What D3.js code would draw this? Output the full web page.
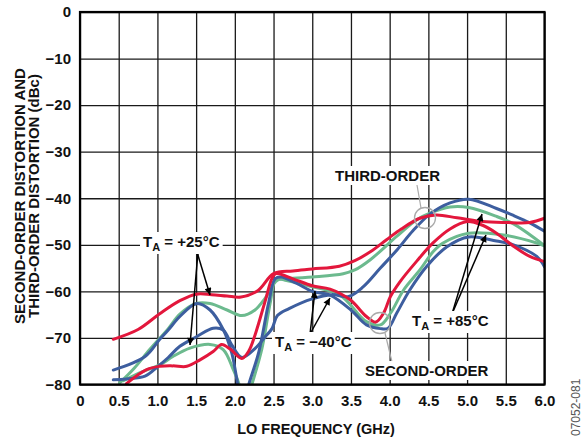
<!DOCTYPE html>
<html>
<head>
<meta charset="utf-8">
<script src="https://cdn.jsdelivr.net/npm/d3@7"></script>
<style>
  body { margin: 0; background: #fff; }
  text { font-family: "Liberation Sans", Arial, sans-serif; }
</style>
</head>
<body>
<div id="chart"></div>
<script>
var width = 586;
var height = 440;

// tick values
var freqTicks = [0, 0.5, 1.0, 1.5, 2.0, 2.5, 3.0, 3.5, 4.0, 4.5, 5.0, 5.5, 6.0];
var dbTicks = [0, -10, -20, -30, -40, -50, -60, -70, -80];

// curves: [LO freq GHz, dBc]
var red3 = [[0.43,-70.3],[0.75,-68.2],[1.03,-64.8],[1.29,-62],[1.5,-60.6],[1.7,-60.7],[1.9,-61],[2.08,-61.2],[2.3,-59.8],[2.5,-56.2],[2.75,-55.6],[3.0,-55.2],[3.35,-54.6],[3.55,-53.4],[3.75,-51.5],[3.96,-48.9],[4.15,-46.6],[4.39,-44.3],[4.6,-43.6],[4.87,-44.2],[5.2,-45],[5.5,-45.2],[5.81,-45.2],[6.0,-44.3]];
var red2 = [[0.6,-79.8],[0.86,-76.8],[1.03,-76.1],[1.2,-76],[1.38,-76.1],[1.55,-74.7],[1.72,-72.9],[1.83,-71.4],[1.94,-72.4],[2.09,-74.4],[2.18,-72.8],[2.26,-69.4],[2.39,-62.2],[2.48,-57.2],[2.53,-56.2],[2.75,-57.3],[3.0,-58.8],[3.23,-59.5],[3.49,-61.8],[3.7,-65.4],[3.82,-66.6],[3.92,-64.7],[4.01,-61.1],[4.13,-58],[4.35,-53.5],[4.56,-49.6],[4.78,-46.6],[5.0,-45],[5.2,-45.8],[5.38,-47.5],[5.6,-50.3],[5.81,-52.5],[6.0,-53.6]];
var blue3 = [[0.43,-79],[0.6,-78.8],[0.84,-78.2],[1.0,-76.2],[1.14,-74.2],[1.29,-71.8],[1.51,-69.7],[1.72,-67.9],[1.85,-68.3],[1.96,-71.5],[2.09,-74.2],[2.26,-72.3],[2.4,-69.6],[2.48,-68],[2.55,-65.2],[2.7,-63.7],[3.0,-61.6],[3.25,-60.7],[3.47,-61.1],[3.66,-59],[3.88,-55],[4.1,-51],[4.3,-47],[4.52,-43.4],[4.78,-41],[5.02,-40.2],[5.38,-42.2],[5.6,-43.7],[5.81,-45.3],[6.0,-47.1]];
var blue2 = [[0.43,-76.9],[0.84,-74],[1.03,-70.3],[1.14,-68.3],[1.29,-65.4],[1.51,-62.6],[1.68,-64],[1.85,-68.2],[1.96,-73.2],[2.02,-78.3],[2.1,-85],[2.18,-80],[2.31,-73],[2.44,-62.2],[2.52,-57.3],[2.6,-56.9],[2.8,-58.3],[3.0,-60],[3.23,-60.8],[3.5,-64],[3.7,-67.2],[3.88,-68],[3.98,-67.9],[4.09,-64.7],[4.26,-59.7],[4.48,-54.6],[4.74,-50.4],[5.02,-48.3],[5.38,-49.2],[5.6,-50],[5.9,-52.5],[6.0,-54.7]];
var green3 = [[0.51,-79.7],[0.7,-76.5],[0.9,-72.5],[1.14,-68],[1.29,-64.9],[1.5,-62.6],[1.68,-62.6],[1.9,-64],[2.09,-65.2],[2.26,-64],[2.39,-61.5],[2.55,-57.6],[2.75,-57.2],[3.0,-56.9],[3.4,-56.2],[3.55,-55.4],[3.75,-53.2],[4.09,-48.2],[4.35,-44.6],[4.52,-43.2],[4.78,-41.9],[5.02,-42],[5.38,-43.9],[5.6,-45.5],[5.9,-48.9],[6.0,-50.2]];
var green2 = [[0.56,-79.2],[0.8,-77.3],[1.03,-75.8],[1.2,-74],[1.42,-72.2],[1.68,-71.4],[1.85,-72.5],[1.98,-76.8],[2.05,-79.7],[2.13,-85],[2.22,-80],[2.35,-72.3],[2.46,-62.2],[2.53,-57.4],[2.65,-57.6],[3.0,-59],[3.36,-60.8],[3.7,-66.5],[3.88,-67.2],[4.01,-64.7],[4.18,-59.7],[4.39,-55.4],[4.56,-51.5],[4.69,-49.6],[5.02,-47.5],[5.47,-47.9],[5.9,-49.6],[6.0,-50.2]];

var RED = "#e3173c", GREEN = "#6cba8e", BLUE = "#3d5e9f";

var series = [
  {pts: green3, color: GREEN}, {pts: green2, color: GREEN},
  {pts: blue3, color: BLUE}, {pts: blue2, color: BLUE},
  {pts: red3, color: RED}, {pts: red2, color: RED}
];

var svg = d3.select("#chart").append("svg")
  .attr("width", width)
  .attr("height", height);

var xScale = d3.scaleLinear().domain([0, 6]).range([80, 544.5]);
var yScale = d3.scaleLinear().domain([-80, 0]).range([384.5, 12]);
var plotW = 544.5 - 80, plotH = 384.5 - 12;

// grid + tick labels
var xAxis = d3.axisBottom(xScale)
  .tickValues(freqTicks)
  .tickSize(-plotH)
  .tickPadding(11)
  .tickFormat(function(d) { return d === 0 ? "0" : d3.format(".1f")(d); });
var yAxis = d3.axisLeft(yScale)
  .tickValues(dbTicks)
  .tickSize(-plotW)
  .tickPadding(9)
  .tickFormat(function(d) { return d === 0 ? "0" : "\u2212" + Math.abs(d); });

var gx = svg.append("g").attr("transform", "translate(0," + 384.5 + ")").call(xAxis);
var gy = svg.append("g").attr("transform", "translate(80,0)").call(yAxis);
[gx, gy].forEach(function(g) {
  g.select(".domain").remove();
  g.selectAll(".tick line").attr("stroke", "#1a1a1a").attr("stroke-width", 1.3);
  g.selectAll(".tick text")
    .attr("fill", "#111")
    .style("font-size", "15px")
    .style("font-weight", "bold")
    .style("font-family", "'Liberation Sans', Arial, sans-serif");
});

// clip curves to the plot
svg.append("clipPath").attr("id", "plotclip")
  .append("rect").attr("x", 80).attr("y", 12).attr("width", plotW).attr("height", plotH);

var line = d3.line()
  .x(function(d) { return xScale(d[0]); })
  .y(function(d) { return yScale(d[1]); })
  .curve(d3.curveCatmullRom.alpha(0.5));

svg.append("g").attr("clip-path", "url(#plotclip)")
  .selectAll("path")
  .data(series)
  .enter().append("path")
  .attr("d", function(d) { return line(d.pts); })
  .attr("fill", "none")
  .attr("stroke", function(d) { return d.color; })
  .attr("stroke-width", 3)
  .attr("stroke-linejoin", "round")
  .attr("stroke-linecap", "round");

// marker circles and leaders
var marks = [
  {cx: 425, cy: 218, lx1: 417, ly1: 185, lx2: 421, ly2: 208},
  {cx: 380, cy: 323, lx1: 385, ly1: 333, lx2: 392, ly2: 362}
];
marks.forEach(function(m) {
  svg.append("line").attr("x1", m.lx1).attr("y1", m.ly1).attr("x2", m.lx2).attr("y2", m.ly2)
    .attr("stroke", "#aaa").attr("stroke-width", 1.2);
  svg.append("circle").attr("cx", m.cx).attr("cy", m.cy).attr("r", 10.5)
    .attr("fill", "none").attr("stroke", "#aaa").attr("stroke-width", 1.3);
});

// arrows
svg.append("defs").append("marker")
  .attr("id", "head").attr("viewBox", "0 0 10 10")
  .attr("refX", 10).attr("refY", 5)
  .attr("markerWidth", 10).attr("markerHeight", 7)
  .attr("markerUnits", "userSpaceOnUse")
  .attr("orient", "auto")
  .append("path").attr("d", "M0,0 L10,5 L0,10 z").attr("fill", "#000");

var arrows = [
  [197, 252, 210, 295], [198, 252, 190, 345],
  [310, 334, 315, 291], [310, 334, 330, 298],
  [452, 314, 482, 214], [452, 314, 486, 235]
];
svg.selectAll(".arrow").data(arrows).enter().append("line")
  .attr("class", "arrow")
  .attr("x1", function(d) { return d[0]; }).attr("y1", function(d) { return d[1]; })
  .attr("x2", function(d) { return d[2]; }).attr("y2", function(d) { return d[3]; })
  .attr("stroke", "#000").attr("stroke-width", 1.5)
  .attr("marker-end", "url(#head)");

// labels with white boxes
function label(x, y, parts) {
  var t = svg.append("text").attr("x", x).attr("y", y)
    .style("font-size", "15px").style("font-weight", "bold").attr("fill", "#111");
  parts.forEach(function(p) {
    var s = t.append("tspan").text(p.t);
    if (p.sub) s.style("font-size", "11px").attr("dy", 4);
    if (p.up) s.attr("dy", -4);
  });
  var bb = t.node().getBBox();
  svg.insert("rect", function() { return t.node(); })
    .attr("x", bb.x - 3).attr("y", bb.y - 1)
    .attr("width", bb.width + 6).attr("height", bb.height + 2)
    .attr("fill", "#fff");
}
label(143, 247, [{t: "T"}, {t: "A", sub: true}, {t: " = +25\u00B0C", up: true}]);
label(275, 347, [{t: "T"}, {t: "A", sub: true}, {t: " = \u221240\u00B0C", up: true}]);
label(412, 326, [{t: "T"}, {t: "A", sub: true}, {t: " = +85\u00B0C", up: true}]);
label(335, 181, [{t: "THIRD-ORDER"}]);
label(365, 376, [{t: "SECOND-ORDER"}]);

// frame
svg.append("rect").attr("x", 80).attr("y", 12).attr("width", plotW).attr("height", plotH)
  .attr("fill", "none").attr("stroke", "#000").attr("stroke-width", 2.2);

// axis titles
svg.append("text")
  .attr("x", 316).attr("y", 434)
  .attr("text-anchor", "middle")
  .style("font-size", "14.5px").style("font-weight", "bold").attr("fill", "#111")
  .text("LO FREQUENCY (GHz)");

svg.append("text")
  .attr("transform", "translate(25,196) rotate(-90)")
  .attr("text-anchor", "middle")
  .style("font-size", "15px").style("font-weight", "bold").attr("fill", "#111")
  .text("SECOND-ORDER DISTORTION AND");
svg.append("text")
  .attr("transform", "translate(39,196) rotate(-90)")
  .attr("text-anchor", "middle")
  .style("font-size", "15px").style("font-weight", "bold").attr("fill", "#111")
  .text("THIRD-ORDER DISTORTION (dBc)");

svg.append("text")
  .attr("transform", "translate(580,436) rotate(-90)")
  .style("font-size", "12px").attr("fill", "#555")
  .text("07052-081");
</script>
</body>
</html>
